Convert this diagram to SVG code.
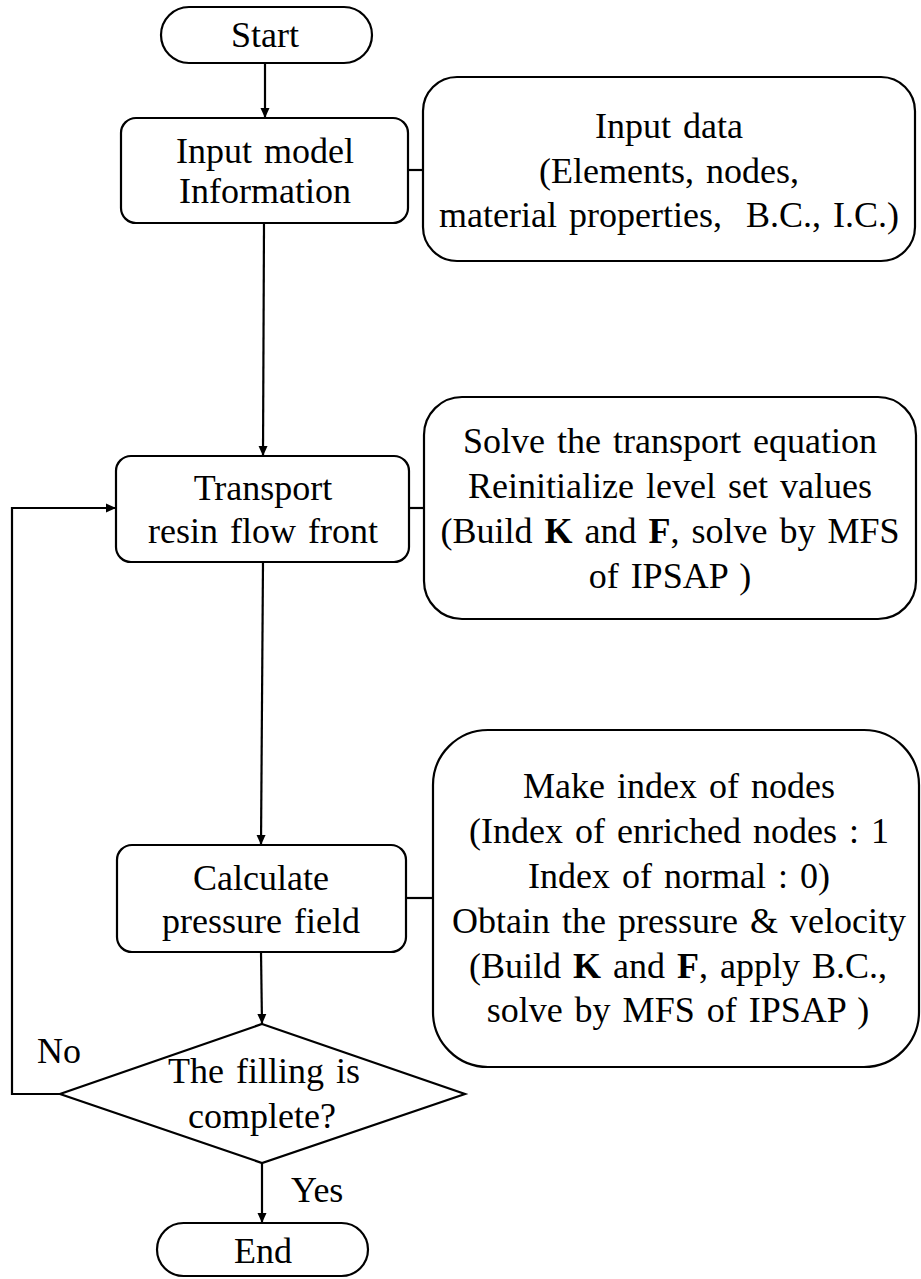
<svg xmlns="http://www.w3.org/2000/svg" width="921" height="1279" viewBox="0 0 921 1279">
<style>
.box{fill:#fff;stroke:#000;stroke-width:2.2}
.ln{fill:none;stroke:#000;stroke-width:2.2}
text{font-family:"Liberation Serif","Times New Roman",serif;font-size:36px;fill:#000;text-anchor:middle;word-spacing:3px;white-space:pre}
.lbl{text-anchor:start}
</style>
<defs>
<marker id="ah" viewBox="0 0 10 10" refX="10" refY="5" markerWidth="10" markerHeight="10" markerUnits="userSpaceOnUse" orient="auto">
<path d="M0,0.5 L10,5 L0,9.5 z" fill="#000"/>
</marker>
</defs>
<rect width="921" height="1279" fill="#fff"/>
<g id="connectors">
<line class="ln" x1="265" y1="63" x2="265" y2="118" marker-end="url(#ah)"/>
<line class="ln" x1="408" y1="170" x2="423" y2="170"/>
<line class="ln" x1="264" y1="223" x2="263" y2="456" marker-end="url(#ah)"/>
<line class="ln" x1="409" y1="508" x2="424" y2="508"/>
<line class="ln" x1="263" y1="562" x2="261" y2="845" marker-end="url(#ah)"/>
<line class="ln" x1="406" y1="898" x2="433" y2="898"/>
<line class="ln" x1="261" y1="952" x2="262" y2="1024" marker-end="url(#ah)"/>
<polyline class="ln" points="60,1094 12,1094 12,508 116,508" marker-end="url(#ah)"/>
<line class="ln" x1="262" y1="1163" x2="262" y2="1223" marker-end="url(#ah)"/>
<text class="lbl" x="37" y="1063">No</text>
<text class="lbl" x="291" y="1202">Yes</text>
</g>
<g id="start">
<rect class="box" x="161" y="7" width="211" height="56" rx="28"/>
<text x="265" y="47">Start</text>
</g>
<g id="input-model">
<rect class="box" x="121" y="118" width="287" height="105" rx="15"/>
<text x="265" y="163">Input model</text>
<text x="265" y="203">Information</text>
</g>
<g id="input-data">
<rect class="box" x="423" y="77" width="492" height="184" rx="34"/>
<text x="669" y="138">Input data</text>
<text x="669" y="183">(Elements, nodes,</text>
<text x="669" y="227" xml:space="preserve">material properties,  B.C., I.C.)</text>
</g>
<g id="transport">
<rect class="box" x="116" y="456" width="293" height="106" rx="15"/>
<text x="263" y="500">Transport</text>
<text x="263" y="543">resin flow front</text>
</g>
<g id="transport-detail">
<rect class="box" x="424" y="397" width="492" height="222" rx="38"/>
<text x="670" y="453">Solve the transport equation</text>
<text x="670" y="498">Reinitialize level set values</text>
<text x="670" y="543">(Build <tspan font-weight="bold">K</tspan> and <tspan font-weight="bold">F</tspan>, solve by MFS</text>
<text x="670" y="588">of IPSAP )</text>
</g>
<g id="calculate">
<rect class="box" x="117" y="845" width="289" height="107" rx="15"/>
<text x="261" y="890">Calculate</text>
<text x="261" y="933">pressure field</text>
</g>
<g id="pressure-detail">
<rect class="box" x="433" y="730" width="486" height="337" rx="55"/>
<text x="679" y="798">Make index of nodes</text>
<text x="679" y="843">(Index of enriched nodes : 1</text>
<text x="679" y="888">Index of normal : 0)</text>
<text x="679" y="933">Obtain the pressure &amp; velocity</text>
<text x="678" y="978">(Build <tspan font-weight="bold">K</tspan> and <tspan font-weight="bold">F</tspan>, apply B.C.,</text>
<text x="678" y="1022">solve by MFS of IPSAP )</text>
</g>
<g id="decision">
<polygon class="box" points="262,1024 465,1094 262,1163 60,1094"/>
<text x="264" y="1083">The filling is</text>
<text x="262" y="1128">complete?</text>
</g>
<g id="end">
<rect class="box" x="157" y="1223" width="211" height="53" rx="26.5"/>
<text x="263" y="1263">End</text>
</g>
</svg>
